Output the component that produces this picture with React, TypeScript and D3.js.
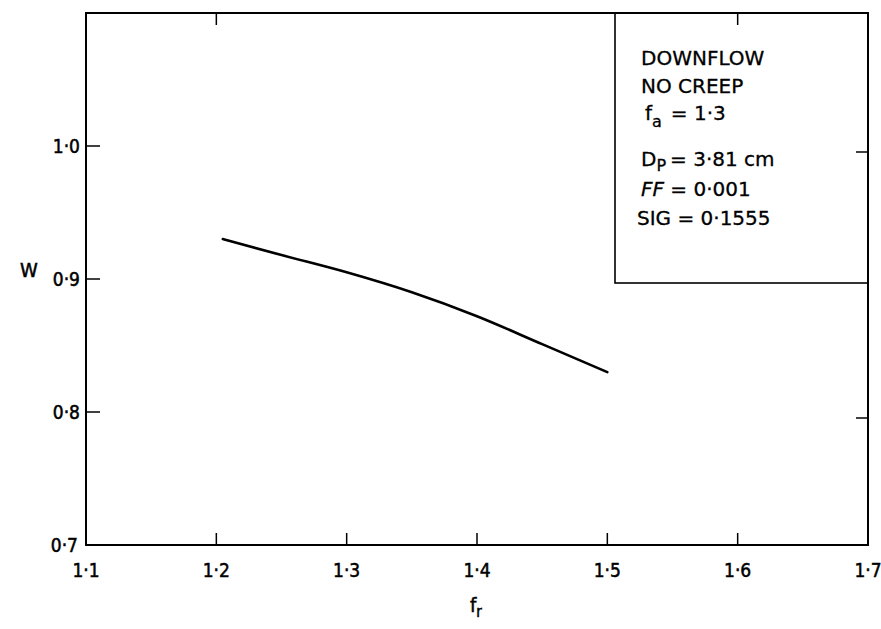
import React from "react";
import * as d3 from "d3";

const fr = [1.205, 1.25, 1.3, 1.35, 1.4, 1.45, 1.5];
const wVals = [0.93, 0.918, 0.905, 0.89, 0.872, 0.851, 0.83];
const xTicks = [1.1, 1.2, 1.3, 1.4, 1.5, 1.6, 1.7];
const yTicks = [0.7, 0.8, 0.9, 1.0];
const topTicks = [1.2, 1.6];
const rightTicks = [0.8, 1.0];
const legendLines = ["DOWNFLOW", "NO CREEP"];

const fmt = (v: number) => v.toFixed(1).replace(".", "·");

export default function App() {
  const W = 881, H = 629;
  const x = d3.scaleLinear().domain([1.1, 1.7]).range([86, 868]);
  const y = d3.scaleLinear().domain([0.7, 1.1]).range([545, 13]);
  const line = d3.line<number>().x((_, i) => x(fr[i])).y((d) => y(d)).curve(d3.curveMonotoneX);
  const font = "'DejaVu Sans Condensed', 'DejaVu Sans', sans-serif";
  const lx = 641;
  return (
    <svg width={W} height={H} style={{ position: "absolute", left: 0, top: 0, background: "#fff" }}>
      <g fill="none" stroke="#000">
        <rect x={x(1.1)} y={y(1.1)} width={x(1.7) - x(1.1)} height={y(0.7) - y(1.1)} strokeWidth={2} />
        {xTicks.slice(1, -1).map((t) => (
          <line key={t} x1={x(t)} x2={x(t)} y1={y(0.7)} y2={y(0.7) - 12} strokeWidth={1.5} />
        ))}
        {topTicks.map((t) => (
          <line key={t} x1={x(t)} x2={x(t)} y1={y(1.1)} y2={y(1.1) + 12} strokeWidth={1.5} />
        ))}
        {yTicks.slice(1).map((t) => (
          <line key={t} x1={x(1.1)} x2={x(1.1) + 14} y1={y(t)} y2={y(t)} strokeWidth={1.5} />
        ))}
        {rightTicks.map((t) => (
          <line key={t} x1={x(1.7)} x2={x(1.7) - 12} y1={y(t) + 6} y2={y(t) + 6} strokeWidth={1.5} />
        ))}
        <rect x={615} y={y(1.1)} width={x(1.7) - 615} height={283 - y(1.1)} strokeWidth={1.6} />
        <path d={line(wVals) || ""} strokeWidth={2.6} strokeLinecap="round" />
      </g>
      <g fontFamily={font} fontSize={19} fill="#000" stroke="#000" strokeWidth={0.5}>
        {xTicks.map((t) => (
          <text key={t} x={x(t)} y={577} textAnchor="middle">{fmt(t)}</text>
        ))}
        {yTicks.map((t) => (
          <text key={t} x={t === 0.7 ? 78 : 80} y={y(t) + 7} textAnchor="end">{fmt(t)}</text>
        ))}
        <text x={20} y={277} fontSize={20}>W</text>
        <text x={470} y={612} fontSize={20}>f<tspan fontSize={15} dy={5}>r</tspan></text>
      </g>
      <g fontFamily="'DejaVu Sans', sans-serif" fontSize={20} fill="#000" stroke="#000" strokeWidth={0.3}>
        {legendLines.map((s, i) => (
          <text key={s} x={lx} y={65 + i * 28}>{s}</text>
        ))}
        <text x={lx + 4} y={120}>f<tspan fontSize={16} dy={7}>a</tspan><tspan dy={-7} dx={9}>= 1·3</tspan></text>
        <text x={lx} y={166}>D<tspan fontSize={16} dy={5}>P</tspan><tspan dy={-5} dx={4}>= 3·81 cm</tspan></text>
        <text x={lx} y={196} fontStyle="italic">FF<tspan fontStyle="normal"> = 0·001</tspan></text>
        <text x={lx - 4} y={225}>SIG = 0·1555</text>
      </g>
    </svg>
  );
}
